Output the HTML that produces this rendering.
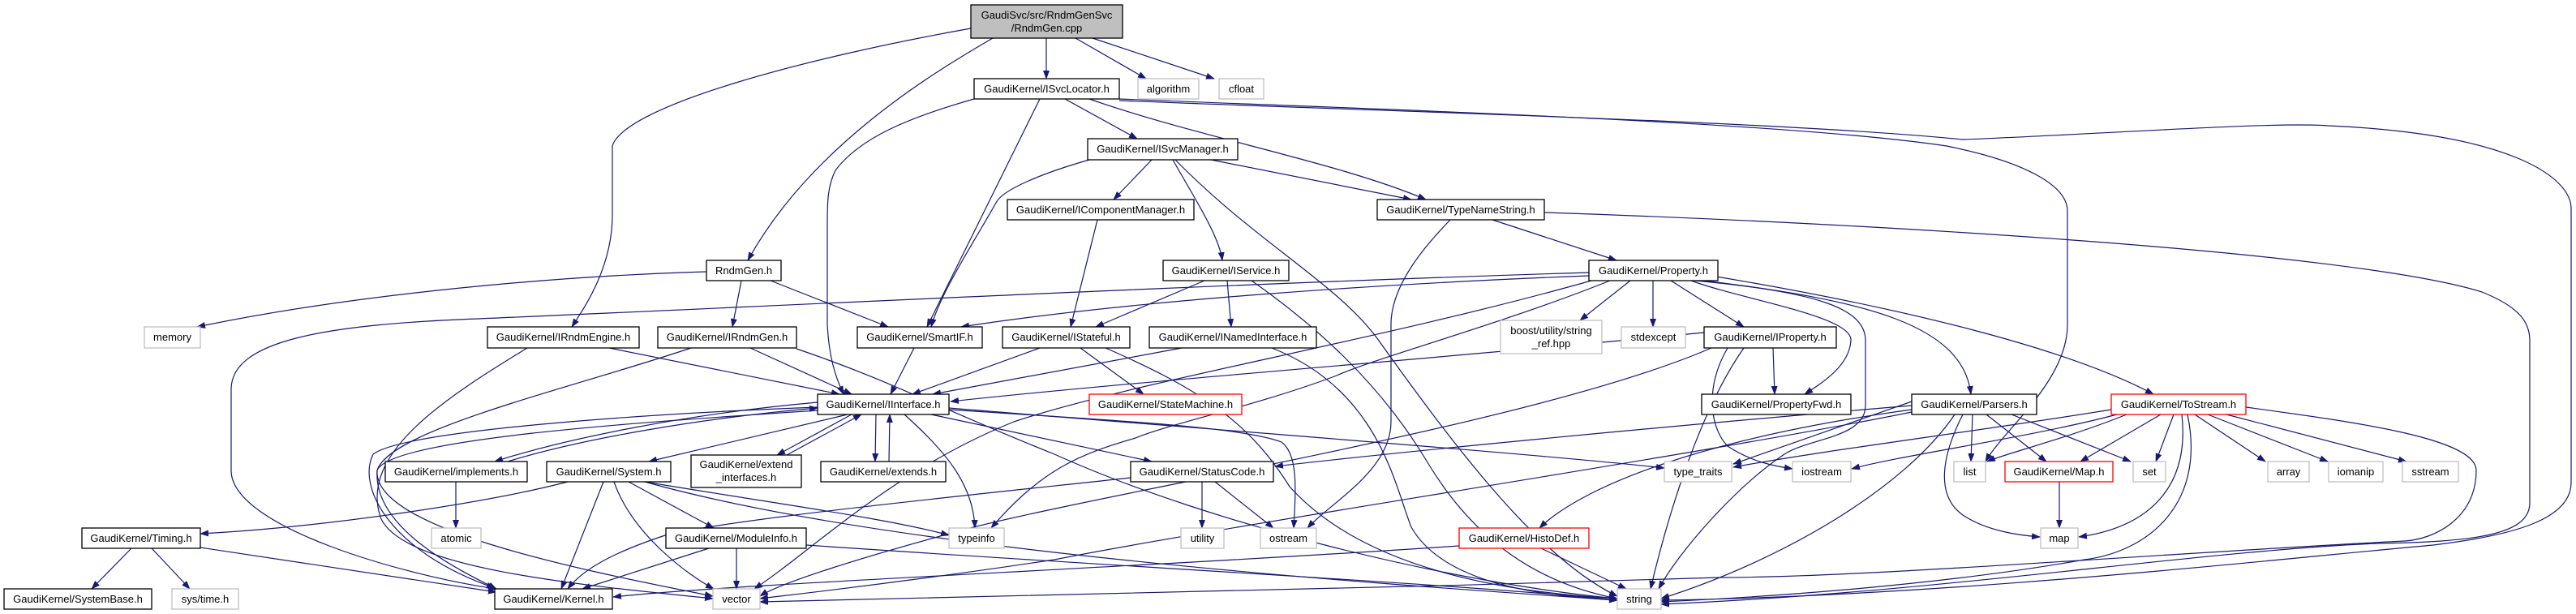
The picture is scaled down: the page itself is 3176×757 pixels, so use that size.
<!DOCTYPE html>
<html><head><meta charset="utf-8"><style>
html,body{margin:0;padding:0;background:#fff;}
svg{display:block;}
text{font-family:"Liberation Sans",sans-serif;font-size:13px;fill:#000;}
.n{fill:#fff;stroke:#000;stroke-width:1.3;}
.g{fill:#fff;stroke:#bfbfbf;stroke-width:1.3;}
.r{fill:#fff;stroke:#ff0000;stroke-width:1.3;}
.e{fill:none;stroke:#191970;stroke-width:1.2;marker-end:url(#a);}
</style></head><body>
<svg width="3176" height="757" viewBox="0 0 3176 757" xmlns="http://www.w3.org/2000/svg">
<defs><marker id="a" markerUnits="userSpaceOnUse" markerWidth="11" markerHeight="8" refX="10" refY="4" orient="auto"><path d="M0,0 L11,4 L0,8 z" fill="#191970"/></marker></defs>
<g>
<path class="e" d="M1290,47 L1290,97"/>
<path class="e" d="M1326,47 L1413,97"/>
<path class="e" d="M1347,47 L1497,97"/>
<path class="e" d="M1224,47 C1150,90 1000,180 922,321"/>
<path class="e" d="M1197,35 C1000,70 770,130 755,180 L755,265 C755,330 720,380 705,403"/>
<path class="e" d="M871,335 C700,340 450,360 243,403"/>
<path class="e" d="M914,346 L903,403"/>
<path class="e" d="M950,346 L1095,403"/>
<path class="e" d="M1201,122 C1120,145 1060,170 1030,210 C1020,230 1020,250 1020,280 L1020,400 C1022,440 1030,465 1040,486"/>
<path class="e" d="M1282,122 L1143,403"/>
<path class="e" d="M1313,122 L1402,171"/>
<path class="e" d="M1343,122 C1480,170 1650,200 1758,246"/>
<path class="e" d="M1380,122 C1700,135 2200,150 2400,180 C2500,200 2549,230 2549,260 L2549,400 C2549,470 2470,530 2448,569"/>
<path class="e" d="M1380,124 C1700,137 2200,150 2420,172 C2600,165 2800,150 2870,155 C3100,165 3170,220 3170,257 L3170,595 C3170,640 3100,660 3000,672 C2800,690 2400,735 2048,740"/>
<path class="e" d="M1343,197 C1280,215 1235,235 1228,250 C1200,300 1160,360 1148,403"/>
<path class="e" d="M1420,197 L1373,246"/>
<path class="e" d="M1446,197 C1470,240 1503,290 1507,321"/>
<path class="e" d="M1493,197 L1740,246"/>
<path class="e" d="M1449,197 C1550,300 1650,350 1700,420 C1800,560 1900,690 1994,735"/>
<path class="e" d="M1353,271 L1320,403"/>
<path class="e" d="M1840,271 L1993,321"/>
<path class="e" d="M1788,271 C1760,300 1715,350 1715,400 L1715,520 C1715,580 1640,620 1612,651"/>
<path class="e" d="M1904,262 C2300,275 2900,310 3060,360 C3110,380 3119,400 3119,420 L3119,620 C3119,660 3050,668 2930,670 C2700,680 2400,730 2048,745"/>
<path class="e" d="M1485,346 L1351,403"/>
<path class="e" d="M1513,346 L1518,403"/>
<path class="e" d="M1543,346 C1620,400 1700,470 1760,570 C1820,670 1900,720 1994,738"/>
<path class="e" d="M1959,340 C1700,350 1400,370 1185,403"/>
<path class="e" d="M1959,336 C1500,350 900,380 590,393 C400,400 285,420 285,480 L285,580 C285,650 500,710 612,726"/>
<path class="e" d="M2010,346 L1948,395"/>
<path class="e" d="M2038,346 L2038,403"/>
<path class="e" d="M2060,346 L2150,403"/>
<path class="e" d="M2085,346 C2150,370 2285,390 2282,420 C2280,450 2250,470 2225,486"/>
<path class="e" d="M2100,346 C2300,370 2420,400 2430,486"/>
<path class="e" d="M2110,340 C2350,380 2550,430 2655,486"/>
<path class="e" d="M2090,346 C2240,360 2300,380 2300,420 L2300,500 C2300,540 2230,540 2200,560 C2140,600 2070,680 2045,726"/>
<path class="e" d="M1985,346 C1850,400 1700,440 1648,463 C1550,500 1440,523 1400,540 C1330,560 1283,580 1222,651"/>
<path class="e" d="M1962,346 C1700,420 1400,470 1250,520 C1100,580 1000,680 930,726"/>
<path class="e" d="M2101,410 C1800,440 1400,470 1172,495"/>
<path class="e" d="M2186,429 L2188,486"/>
<path class="e" d="M2150,429 C2100,500 2060,620 2035,726"/>
<path class="e" d="M2130,429 C2100,480 2110,530 2130,550 C2160,570 2190,575 2210,578"/>
<path class="e" d="M2110,429 C1900,520 1400,600 1200,650 C1050,690 960,720 937,735"/>
<path class="e" d="M2357,500 C2000,530 1700,560 1572,575"/>
<path class="e" d="M2357,505 C2100,540 1950,600 1898,651"/>
<path class="e" d="M2357,495 L2137,572"/>
<path class="e" d="M2432,511 L2430,569"/>
<path class="e" d="M2449,511 L2523,569"/>
<path class="e" d="M2480,511 L2627,569"/>
<path class="e" d="M2420,511 C2395,560 2385,610 2420,635 C2450,655 2490,660 2515,662"/>
<path class="e" d="M2410,511 C2350,600 2200,690 2048,738"/>
<path class="e" d="M2357,508 C2100,560 1500,650 1300,690 C1100,720 960,735 937,738"/>
<path class="e" d="M2610,511 C2500,540 2350,560 2283,578"/>
<path class="e" d="M2603,505 C2450,530 2250,555 2137,576"/>
<path class="e" d="M2622,511 C2550,540 2470,560 2450,569"/>
<path class="e" d="M2664,511 L2565,569"/>
<path class="e" d="M2680,511 L2658,569"/>
<path class="e" d="M2706,511 L2793,569"/>
<path class="e" d="M2722,511 L2870,569"/>
<path class="e" d="M2745,511 L2967,569"/>
<path class="e" d="M2690,511 C2700,600 2650,650 2563,662"/>
<path class="e" d="M2697,511 C2720,620 2650,680 2570,690 C2400,720 2200,735 2048,742"/>
<path class="e" d="M2769,502 C2900,520 3053,540 3053,580 C3053,640 3000,665 2965,667 C2700,680 2300,712 2120,712 C1700,725 1200,738 937,742"/>
<path class="e" d="M1008,496 C850,510 700,540 610,569"/>
<path class="e" d="M626,569 C720,540 870,515 1008,503"/>
<path class="e" d="M1045,511 L800,569"/>
<path class="e" d="M1050,511 L958,561"/>
<path class="e" d="M970,561 L1062,511"/>
<path class="e" d="M1080,511 L1079,569"/>
<path class="e" d="M1096,569 L1097,511"/>
<path class="e" d="M1148,511 L1420,569"/>
<path class="e" d="M1115,511 C1170,560 1200,600 1202,651"/>
<path class="e" d="M1170,505 C1400,520 1533,527 1580,545 C1600,560 1598,600 1595,651"/>
<path class="e" d="M1170,503 C1500,530 1900,560 2052,577"/>
<path class="e" d="M1008,502 C800,510 500,530 460,560 C440,600 480,680 610,725"/>
<path class="e" d="M1008,506 C800,520 480,540 465,580 C460,650 700,700 879,735"/>
<path class="e" d="M700,594 C600,620 400,650 247,658"/>
<path class="e" d="M795,594 C950,620 1100,640 1170,660"/>
<path class="e" d="M744,594 L692,726"/>
<path class="e" d="M757,594 C780,660 850,710 880,726"/>
<path class="e" d="M775,594 L880,651"/>
<path class="e" d="M795,594 C1100,680 1700,720 1994,740"/>
<path class="e" d="M162,676 L113,726"/>
<path class="e" d="M187,676 L234,726"/>
<path class="e" d="M247,675 L612,730"/>
<path class="e" d="M874,676 L718,726"/>
<path class="e" d="M908,676 L908,726"/>
<path class="e" d="M994,672 C1400,700 1800,720 1994,740"/>
<path class="e" d="M562,594 L562,651"/>
<path class="e" d="M1282,429 L1125,486"/>
<path class="e" d="M1332,429 L1410,486"/>
<path class="e" d="M1363,429 C1480,480 1540,520 1590,600 C1680,700 1850,730 1994,738"/>
<path class="e" d="M1457,429 L1150,486"/>
<path class="e" d="M1568,429 C1700,480 1720,600 1740,650 C1780,720 1900,735 1994,740"/>
<path class="e" d="M751,429 L1035,486"/>
<path class="e" d="M650,429 C550,490 440,560 470,640 C500,700 700,720 879,738"/>
<path class="e" d="M925,429 L1050,486"/>
<path class="e" d="M852,429 C700,480 480,530 465,580 C460,650 560,700 612,726"/>
<path class="e" d="M982,430 C1100,470 1150,500 1300,560 C1500,650 1800,720 1994,738"/>
<path class="e" d="M1127,429 L1098,486"/>
<path class="e" d="M2539,594 L2539,651"/>
<path class="e" d="M1900,676 L2005,726"/>
<path class="e" d="M1799,673 C1400,700 900,720 756,736"/>
<path class="e" d="M1394,589 C1200,610 900,640 820,660 C760,680 720,700 700,726"/>
<path class="e" d="M1482,594 L1482,651"/>
<path class="e" d="M1498,594 L1570,651"/>
</g>
<g>
<rect x="1197" y="6" width="187" height="41" fill="#bfbfbf" stroke="#000" stroke-width="1.3"/>
<text x="1290.5" y="23" text-anchor="middle">GaudiSvc/src/RndmGenSvc</text>
<text x="1290.5" y="39" text-anchor="middle">/RndmGen.cpp</text>

<rect class="n" x="1201" y="97" width="179" height="25"/><text x="1290.5" y="114" text-anchor="middle">GaudiKernel/ISvcLocator.h</text>
<rect class="g" x="1403" y="97" width="75" height="25"/><text x="1440.5" y="114" text-anchor="middle">algorithm</text>
<rect class="g" x="1503" y="97" width="55" height="25"/><text x="1530.5" y="114" text-anchor="middle">cfloat</text>
<rect class="n" x="1341" y="171" width="185" height="26"/><text x="1433.5" y="188" text-anchor="middle">GaudiKernel/ISvcManager.h</text>
<rect class="n" x="1242" y="246" width="230" height="25"/><text x="1357" y="263" text-anchor="middle">GaudiKernel/IComponentManager.h</text>
<rect class="n" x="1698" y="246" width="206" height="25"/><text x="1801" y="263" text-anchor="middle">GaudiKernel/TypeNameString.h</text>
<rect class="n" x="1434" y="321" width="155" height="25"/><text x="1511.5" y="338" text-anchor="middle">GaudiKernel/IService.h</text>
<rect class="n" x="1959" y="321" width="159" height="25"/><text x="2038.5" y="338" text-anchor="middle">GaudiKernel/Property.h</text>
<rect class="n" x="871" y="321" width="92" height="25"/><text x="917" y="338" text-anchor="middle">RndmGen.h</text>

<rect class="g" x="178" y="403" width="69" height="26"/><text x="212.5" y="420" text-anchor="middle">memory</text>
<rect class="n" x="601" y="403" width="187" height="26"/><text x="694.5" y="420" text-anchor="middle">GaudiKernel/IRndmEngine.h</text>
<rect class="n" x="811" y="403" width="171" height="26"/><text x="896.5" y="420" text-anchor="middle">GaudiKernel/IRndmGen.h</text>
<rect class="n" x="1057" y="403" width="154" height="26"/><text x="1134" y="420" text-anchor="middle">GaudiKernel/SmartIF.h</text>
<rect class="n" x="1236" y="403" width="157" height="26"/><text x="1314.5" y="420" text-anchor="middle">GaudiKernel/IStateful.h</text>
<rect class="n" x="1417" y="403" width="206" height="26"/><text x="1520" y="420" text-anchor="middle">GaudiKernel/INamedInterface.h</text>
<rect class="g" x="1850" y="395" width="125" height="41"/><text x="1912.5" y="412" text-anchor="middle">boost/utility/string</text><text x="1912.5" y="428" text-anchor="middle">_ref.hpp</text>
<rect class="g" x="1999" y="403" width="79" height="26"/><text x="2038.5" y="420" text-anchor="middle">stdexcept</text>
<rect class="n" x="2101" y="403" width="163" height="26"/><text x="2182.5" y="420" text-anchor="middle">GaudiKernel/IProperty.h</text>

<rect class="n" x="1008" y="486" width="162" height="25"/><text x="1089" y="503" text-anchor="middle">GaudiKernel/IInterface.h</text>
<rect class="r" x="1343" y="486" width="188" height="25"/><text x="1437" y="503" text-anchor="middle">GaudiKernel/StateMachine.h</text>
<rect class="n" x="2098" y="486" width="184" height="25"/><text x="2190" y="503" text-anchor="middle">GaudiKernel/PropertyFwd.h</text>
<rect class="n" x="2357" y="486" width="154" height="25"/><text x="2434" y="503" text-anchor="middle">GaudiKernel/Parsers.h</text>
<rect class="r" x="2603" y="486" width="166" height="25"/><text x="2686" y="503" text-anchor="middle">GaudiKernel/ToStream.h</text>

<rect class="n" x="475" y="569" width="175" height="25"/><text x="562.5" y="586" text-anchor="middle">GaudiKernel/implements.h</text>
<rect class="n" x="674" y="569" width="153" height="25"/><text x="750.5" y="586" text-anchor="middle">GaudiKernel/System.h</text>
<rect class="n" x="852" y="561" width="136" height="40"/><text x="920" y="577" text-anchor="middle">GaudiKernel/extend</text><text x="920" y="593" text-anchor="middle">_interfaces.h</text>
<rect class="n" x="1012" y="569" width="154" height="25"/><text x="1089" y="586" text-anchor="middle">GaudiKernel/extends.h</text>
<rect class="n" x="1394" y="569" width="176" height="25"/><text x="1482" y="586" text-anchor="middle">GaudiKernel/StatusCode.h</text>
<rect class="g" x="2052" y="569" width="83" height="25"/><text x="2093.5" y="586" text-anchor="middle">type_traits</text>
<rect class="g" x="2210" y="569" width="72" height="25"/><text x="2246" y="586" text-anchor="middle">iostream</text>
<rect class="g" x="2409" y="569" width="39" height="25"/><text x="2428.5" y="586" text-anchor="middle">list</text>
<rect class="r" x="2472" y="569" width="133" height="25"/><text x="2538.5" y="586" text-anchor="middle">GaudiKernel/Map.h</text>
<rect class="g" x="2630" y="569" width="40" height="25"/><text x="2650" y="586" text-anchor="middle">set</text>
<rect class="g" x="2796" y="569" width="51" height="25"/><text x="2821.5" y="586" text-anchor="middle">array</text>
<rect class="g" x="2871" y="569" width="67" height="25"/><text x="2904.5" y="586" text-anchor="middle">iomanip</text>
<rect class="g" x="2962" y="569" width="69" height="25"/><text x="2996.5" y="586" text-anchor="middle">sstream</text>

<rect class="n" x="101" y="651" width="146" height="25"/><text x="174" y="668" text-anchor="middle">GaudiKernel/Timing.h</text>
<rect class="g" x="532" y="651" width="61" height="25"/><text x="562.5" y="668" text-anchor="middle">atomic</text>
<rect class="n" x="821" y="651" width="173" height="25"/><text x="907.5" y="668" text-anchor="middle">GaudiKernel/ModuleInfo.h</text>
<rect class="g" x="1170" y="651" width="68" height="25"/><text x="1204" y="668" text-anchor="middle">typeinfo</text>
<rect class="g" x="1456" y="651" width="53" height="25"/><text x="1482.5" y="668" text-anchor="middle">utility</text>
<rect class="g" x="1554" y="651" width="69" height="25"/><text x="1588.5" y="668" text-anchor="middle">ostream</text>
<rect class="r" x="1799" y="651" width="160" height="25"/><text x="1879" y="668" text-anchor="middle">GaudiKernel/HistoDef.h</text>
<rect class="g" x="2516" y="651" width="46" height="25"/><text x="2539" y="668" text-anchor="middle">map</text>

<rect class="n" x="5" y="726" width="182" height="25"/><text x="96" y="743" text-anchor="middle">GaudiKernel/SystemBase.h</text>
<rect class="g" x="212" y="726" width="82" height="25"/><text x="253" y="743" text-anchor="middle">sys/time.h</text>
<rect class="n" x="610" y="726" width="145" height="25"/><text x="682.5" y="743" text-anchor="middle">GaudiKernel/Kernel.h</text>
<rect class="g" x="879" y="726" width="58" height="25"/><text x="908" y="743" text-anchor="middle">vector</text>
<rect class="g" x="1994" y="726" width="54" height="25"/><text x="2021" y="743" text-anchor="middle">string</text>
</g>
</svg>
</body></html>
